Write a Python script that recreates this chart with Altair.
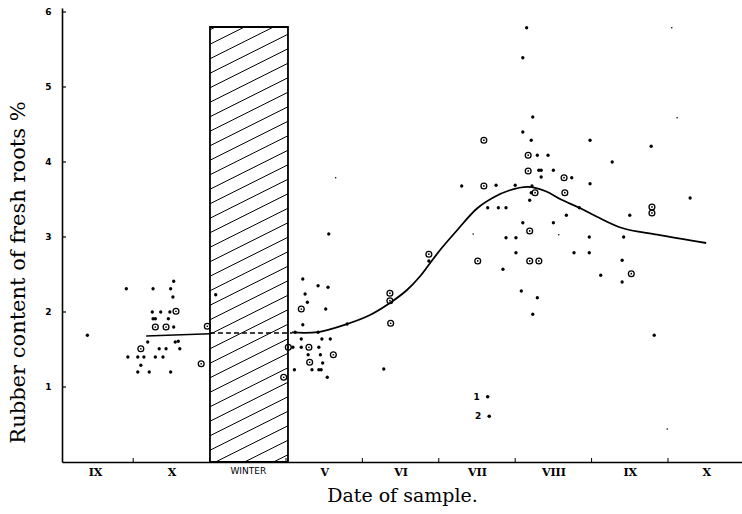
import altair as alt
import pandas as pd

# ---------------- data (x = month index on the date axis, y = rubber %) ----------------
month_pos = [0, 1, 2, 3, 4, 5, 6, 7, 8]
month_labels = ["IX", "X", "WINTER", "V", "VI", "VII", "VIII", "IX", "X"]
y_ticks = [1, 2, 3, 4, 5, 6]
minor_ticks = [0.5, 1.5, 2.5, 3.5, 4.5, 5.5, 6.5, 7.5]

# filled dots
dot_x = [-0.10,
         0.41, 0.76, 1.03, 0.99, 1.02, 0.75, 0.86, 0.98, 0.76, 0.79, 0.96, 1.03, 1.58,
         0.69, 1.05, 1.09, 0.84, 0.93, 1.11, 0.43, 0.56, 0.64, 0.79, 0.89, 0.60, 0.56, 0.71, 0.99,
         3.06, 2.72, 2.92, 3.05, 2.75, 2.78, 3.02, 2.72, 3.30, 2.62, 2.92, 2.70, 2.97, 3.08,
         2.59, 2.70, 2.93, 2.79, 2.95, 2.98, 2.61, 2.84, 2.93, 2.96, 3.04, 3.78, 4.37,
         5.65, 5.60, 5.73, 5.60, 5.71, 6.48, 7.28, 5.79, 5.93, 6.77, 5.81, 5.84, 6.00, 5.84,
         6.24, 6.48, 4.80, 5.25, 5.50, 5.72, 5.71, 5.69, 5.14, 5.28, 5.38, 6.34, 6.17, 7.00,
         7.79, 5.60, 6.00, 5.38, 5.51, 6.47, 6.92, 5.51, 6.27, 6.47, 6.90, 5.34, 6.62, 6.90,
         5.58, 5.79, 5.73, 7.32]
dot_y = [1.69,
         2.31, 2.31, 2.41, 2.31, 2.20, 2.00, 2.00, 2.00, 1.91, 1.91, 1.91, 1.80, 2.23,
         1.60, 1.60, 1.61, 1.51, 1.51, 1.51, 1.40, 1.40, 1.40, 1.40, 1.40, 1.29, 1.20, 1.20, 1.20,
         3.04, 2.44, 2.35, 2.33, 2.24, 2.13, 2.04, 1.83, 1.84, 1.73, 1.73, 1.64, 1.64, 1.64,
         1.53, 1.53, 1.53, 1.43, 1.43, 1.32, 1.23, 1.23, 1.23, 1.23, 1.13, 1.24, 2.68,
         5.79, 5.39, 4.60, 4.40, 4.29, 4.29, 4.21, 4.09, 4.09, 4.00, 3.89, 3.89, 3.89, 3.80,
         3.79, 3.71, 3.68, 3.69, 3.69, 3.68, 3.59, 3.49, 3.39, 3.39, 3.39, 3.39, 3.29, 3.29,
         3.52, 3.19, 3.19, 2.99, 2.99, 3.00, 3.00, 2.79, 2.79, 2.79, 2.69, 2.57, 2.49, 2.40,
         2.28, 2.19, 1.97, 1.69]

# circled dots
ring_x = [1.06, 0.79, 0.93, 1.47, 0.60, 1.39,
          2.70, 2.53, 2.80, 3.12, 2.81, 2.47, 3.86, 3.86, 3.87, 4.37,
          5.09, 5.67, 5.67, 6.14, 5.09, 5.76, 6.15, 7.29, 7.29, 5.69, 5.01, 5.69, 5.81, 7.02]
ring_y = [2.01, 1.80, 1.80, 1.81, 1.51, 1.31,
          2.04, 1.53, 1.53, 1.43, 1.33, 1.13, 2.25, 2.15, 1.85, 2.77,
          4.29, 4.09, 3.88, 3.79, 3.68, 3.59, 3.59, 3.40, 3.32, 3.08, 2.68, 2.68, 2.68, 2.51]

# faint specks
tiny_x = [7.55, 7.62, 4.95, 7.49, 3.15, 6.07]
tiny_y = [5.79, 4.59, 3.04, 0.44, 3.79, 3.03]

# numbered samples
num_x = [5.14, 5.16]
num_y = [0.87, 0.61]
num_lab = ["1", "2"]

# fitted curve
left_x = [0.67, 1.505]
left_y = [1.68, 1.71]
dash_x = [1.505, 2.58]
dash_y = [1.72, 1.72]
curve_x = [2.58, 2.92, 3.30, 3.60, 3.86, 4.08, 4.25, 4.37, 4.52, 4.74, 5.00, 5.22, 5.42,
           5.67, 5.90, 6.10, 6.34, 6.57, 6.90, 7.36, 8.00]
curve_y = [1.727, 1.733, 1.84, 1.96, 2.12, 2.29, 2.47, 2.63, 2.83, 3.09, 3.38, 3.53, 3.62,
           3.667, 3.61, 3.50, 3.39, 3.27, 3.12, 3.03, 2.92]

# winter block
winter_x0, winter_x1, winter_top = 1.505, 2.526, 5.80

# ---------------- layout helpers ----------------
X_DOM = [-0.432, 8.469]
Y_DOM = [0, 6.053]
W, H = 680, 454
xs = alt.Scale(domain=X_DOM, nice=False, zero=False)
ys = alt.Scale(domain=Y_DOM, nice=False, zero=False)

# hatch segments clipped to the winter block
px_per_x = W / (X_DOM[1] - X_DOM[0])
px_per_y = H / (Y_DOM[1] - Y_DOM[0])
slope = 0.5 * px_per_x / px_per_y          # data-units rise per x-unit
spacing = 14.5 / px_per_y
wdt = winter_x1 - winter_x0
hatch = []
c = -slope * wdt + spacing * 0.5
while c < winter_top:
    xa, ya = winter_x0, c
    if ya < 0:
        xa, ya = winter_x0 + (0 - c) / slope, 0.0
    xb, yb = winter_x1, c + slope * wdt
    if yb > winter_top:
        xb, yb = winter_x0 + (winter_top - c) / slope, winter_top
    if xb > xa:
        hatch.append({"x": xa, "y": ya, "x2": xb, "y2": yb})
    c += spacing
hatch_df = pd.DataFrame(hatch)

dots = pd.DataFrame({"x": dot_x, "y": dot_y})
rings = pd.DataFrame({"x": ring_x, "y": ring_y})
tiny = pd.DataFrame({"x": tiny_x, "y": tiny_y})
nums = pd.DataFrame({"x": num_x, "y": num_y, "t": num_lab})
left_df = pd.DataFrame({"x": left_x, "y": left_y})
dash_df = pd.DataFrame({"x": dash_x, "y": dash_y})
curve_df = pd.DataFrame({"x": curve_x, "y": curve_y})
winter_df = pd.DataFrame({"x": [winter_x0], "x2": [winter_x1], "y": [0], "y2": [winter_top]})
ytick_df = pd.DataFrame({"y": y_ticks})
xtick_df = pd.DataFrame({"x": minor_ticks})

label_expr = "[" + ",".join("'%s'" % l for l in month_labels) + "][datum.value]"
winter_idx = month_labels.index("WINTER")
is_winter = "datum.value == %d" % winter_idx

x_axis = alt.Axis(
    values=month_pos, labelExpr=label_expr, ticks=False, grid=False,
    domainColor="black", domainWidth=1.6, labelColor="black",
    labelFont={"condition": {"test": is_winter, "value": "DejaVu Sans"}, "value": "DejaVu Serif"},
    labelFontSize={"condition": {"test": is_winter, "value": 9}, "value": 11},
    labelFontWeight={"condition": {"test": is_winter, "value": "normal"}, "value": "bold"},
    labelPadding=4, labelFlush=False, labelOverlap=False,
    title="Date of sample.", titleFont="DejaVu Serif", titleFontSize=19,
    titleFontWeight="normal", titleColor="black", titleY=33, titleBaseline="middle",
)
y_axis = alt.Axis(
    values=y_ticks, ticks=False, grid=False, domainColor="black", domainWidth=1.6,
    labelColor="black", labelFont="DejaVu Sans", labelFontSize=9, labelFontWeight="bold",
    labelPadding=11,
    title="Rubber content of fresh roots %", titleFont="DejaVu Serif", titleFontSize=21,
    titleFontWeight="normal", titleColor="black", titleX=-44, titleY=264,
    titleAlign="center", titleBaseline="middle", titleAngle=270,
)


def X(field="x"):
    return alt.X(field + ":Q", scale=xs, axis=x_axis, title="Date of sample.")


def Y(field="y"):
    return alt.Y(field + ":Q", scale=ys, axis=y_axis, title="Rubber content of fresh roots %")


winter = alt.Chart(winter_df).mark_rect(fill="white", stroke="black", strokeWidth=1.8).encode(
    x=X(), x2="x2:Q", y=Y(), y2="y2:Q",
)
hatch_layer = alt.Chart(hatch_df).mark_rule(color="black", strokeWidth=1).encode(
    x=X(), x2="x2:Q", y=Y(), y2="y2:Q",
)
ytick_layer = alt.Chart(ytick_df).mark_rule(color="black", strokeWidth=1.2).encode(
    y=Y(), x=alt.value(0), x2=alt.value(4),
)
xtick_layer = alt.Chart(xtick_df).mark_rule(color="black", strokeWidth=1).encode(
    x=X(), y=alt.value(H), y2=alt.value(H - 4),
)
left_line = alt.Chart(left_df).mark_line(color="black", strokeWidth=1.6).encode(x=X(), y=Y())
dash_line = alt.Chart(dash_df).mark_line(color="black", strokeWidth=1.4, strokeDash=[5, 3]).encode(
    x=X(), y=Y())
curve_line = alt.Chart(curve_df).mark_line(color="black", strokeWidth=1.8,
                                           interpolate="catmull-rom").encode(x=X(), y=Y())
dot_layer = alt.Chart(dots).mark_circle(color="black", size=11, opacity=1).encode(x=X(), y=Y())
ring_layer = alt.Chart(rings).mark_point(shape="circle", color="black", filled=False,
                                         size=34, strokeWidth=1.3, opacity=1).encode(x=X(), y=Y())
ring_dot = alt.Chart(rings).mark_circle(color="black", size=3, opacity=1).encode(x=X(), y=Y())
tiny_layer = alt.Chart(tiny).mark_circle(color="black", size=2.5, opacity=1).encode(x=X(), y=Y())
num_dot = alt.Chart(nums).mark_circle(color="black", size=13, opacity=1).encode(x=X(), y=Y())
num_text = alt.Chart(nums).mark_text(font="DejaVu Sans", fontSize=9, fontWeight="bold",
                                     color="black", dx=-11, align="center",
                                     baseline="middle").encode(x=X(), y=Y(), text="t:N")

chart = alt.layer(
    winter, hatch_layer, ytick_layer, xtick_layer,
    left_line, dash_line, curve_line, tiny_layer, dot_layer, ring_layer, ring_dot,
    num_dot, num_text,
).properties(
    width=W, height=H,
    padding={"left": 62, "top": 8, "right": 0, "bottom": 52},
    autosize=alt.AutoSizeParams(type="none"),
    background="white",
).configure_view(stroke=None)

chart.save("out.html", embed_options={"renderer": "svg", "actions": False})
